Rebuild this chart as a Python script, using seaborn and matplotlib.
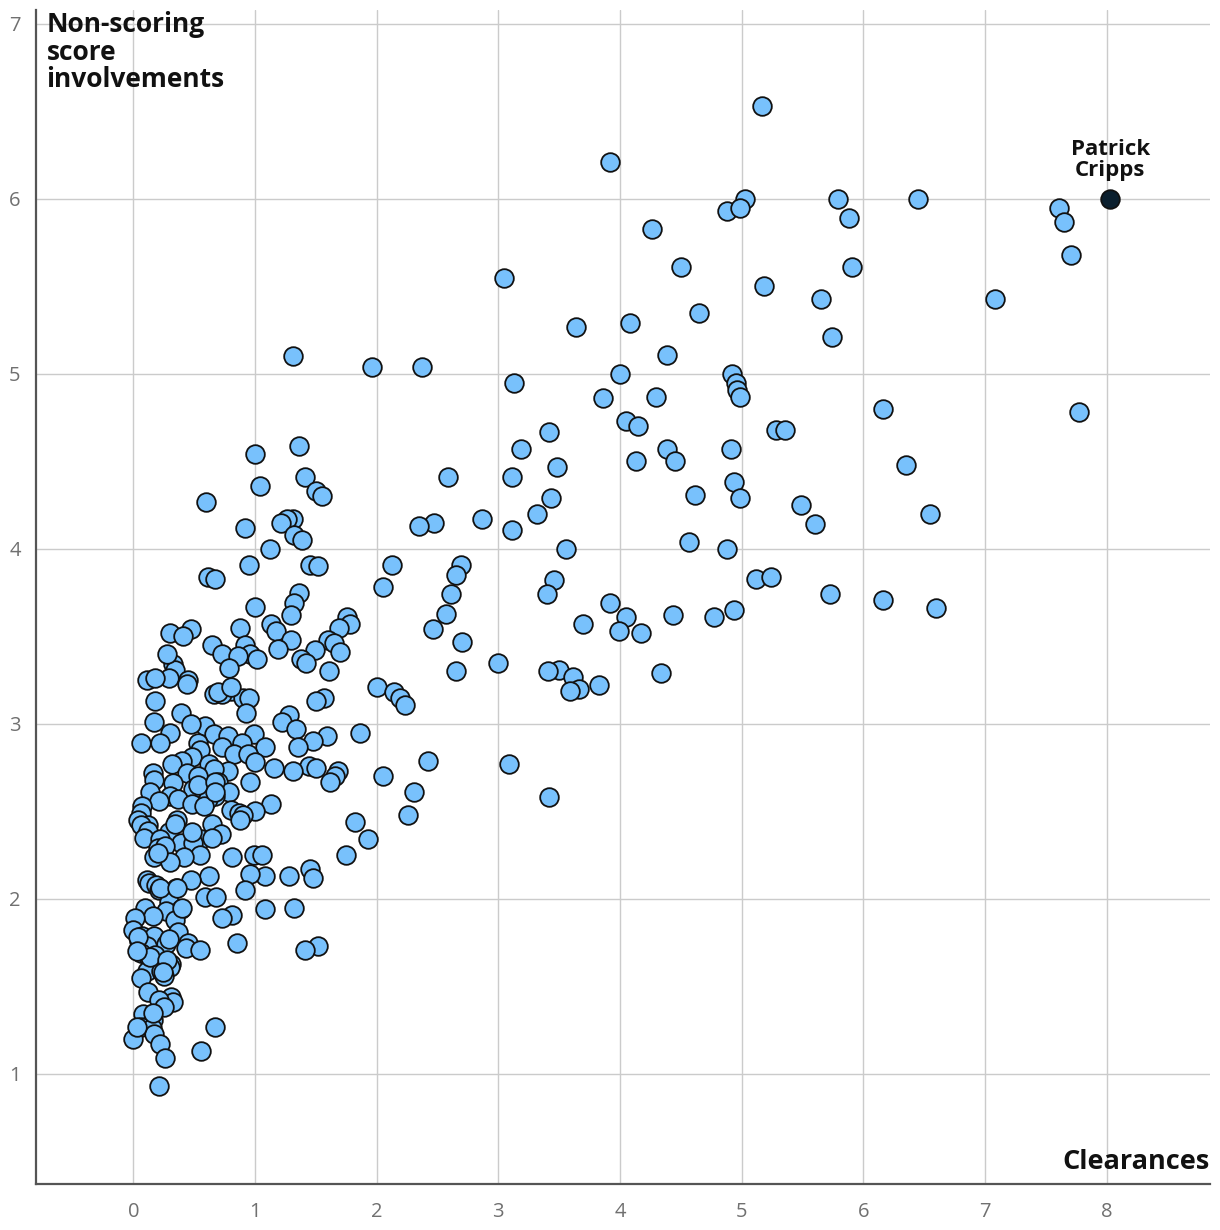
import matplotlib
matplotlib.use("Agg")
import matplotlib.pyplot as plt
import seaborn as sns
import pandas as pd

clearances = [
 5.17,3.92,5.03,4.88,4.99,5.79,5.88,6.45,7.61,7.65,7.71,4.26,4.50,5.91,5.18,3.05,5.65,7.08,4.65,4.08,
 3.64,5.74,1.31,1.96,2.37,4.39,3.13,4.00,4.92,4.95,4.96,4.99,3.86,4.30,6.16,7.77,4.05,4.15,5.28,5.36,
 3.42,3.19,1.36,1.00,4.39,4.45,4.13,4.91,3.48,6.35,2.59,3.11,1.41,1.04,1.50,1.55,4.94,4.62,4.99,3.43,
 5.49,0.60,3.32,6.55,2.87,1.31,1.26,1.21,2.47,2.35,3.11,5.60,0.92,1.32,1.39,4.57,1.12,3.56,4.88,1.45,
 1.52,0.95,2.13,2.69,2.65,0.61,0.67,2.05,3.46,5.12,5.24,1.36,2.61,3.40,5.73,3.92,6.16,6.60,1.32,4.94,
 4.44,4.77,4.05,1.30,1.00,2.57,1.76,1.78,1.69,3.70,1.13,0.88,1.17,2.46,3.99,4.17,0.30,0.47,0.41,1.60,
 1.30,2.70,1.65,0.92,0.65,1.49,1.19,1.70,0.96,1.02,0.73,0.86,1.38,1.42,3.00,0.33,0.34,3.50,3.41,2.65,
 3.61,4.34,0.79,1.61,0.29,0.11,0.18,0.45,0.44,2.00,3.83,3.66,3.59,2.14,0.80,0.66,0.73,0.70,0.90,0.95,
 1.57,2.19,2.23,0.18,1.50,0.93,0.39,1.28,1.22,0.17,0.59,0.47,1.34,0.30,1.86,0.66,0.99,0.78,1.59,1.48,
 0.89,0.06,0.22,0.53,1.35,1.08,0.73,0.55,0.83,0.94,0.48,0.40,2.42,3.09,0.32,0.62,1.00,1.16,1.44,1.50,
 1.31,1.68,0.78,0.66,1.66,2.05,0.44,0.16,0.53,1.62,0.17,0.33,0.70,0.96,0.49,0.79,2.31,0.30,0.67,0.14,
 0.61,0.37,3.42,0.21,0.48,1.13,0.07,0.58,0.80,0.87,1.00,0.90,2.26,0.06,0.04,0.36,1.82,0.65,0.12,0.06,
 0.29,0.12,0.72,0.49,0.09,0.56,1.93,0.22,0.39,0.20,0.26,0.49,0.99,1.06,1.75,0.55,0.81,0.17,0.42,0.30,
 0.20,1.45,1.28,1.08,0.96,0.62,1.48,0.11,0.47,0.13,0.19,0.35,0.92,0.21,0.59,0.68,0.29,0.39,1.32,1.08,
 0.10,0.27,0.81,0.16,0.73,0.01,0.34,0.00,0.37,0.07,0.17,0.05,0.45,0.27,0.85,0.11,1.52,1.41,0.43,0.55,
 0.06,0.18,0.13,0.31,0.30,0.11,0.23,0.06,0.25,0.12,0.31,0.33,0.21,0.08,0.16,0.06,0.67,0.15,0.17,0.00,
 0.22,0.56,0.26,0.21,0.28,0.80,0.53,0.67,0.67,0.34,0.48,0.65,0.88,0.22,0.36,0.40,0.04,0.29,0.14,0.28,
 0.24,0.03,0.25,0.16,0.03,
]
involvements = [
 6.53,6.21,6.00,5.93,5.95,6.00,5.89,6.00,5.95,5.87,5.68,5.83,5.61,5.61,5.50,5.55,5.43,5.43,5.35,5.29,
 5.27,5.21,5.10,5.04,5.04,5.11,4.95,5.00,5.00,4.95,4.91,4.87,4.86,4.87,4.80,4.78,4.73,4.70,4.68,4.68,
 4.67,4.57,4.59,4.54,4.57,4.50,4.50,4.57,4.47,4.48,4.41,4.41,4.41,4.36,4.33,4.30,4.38,4.31,4.29,4.29,
 4.25,4.27,4.20,4.20,4.17,4.17,4.17,4.15,4.15,4.13,4.11,4.14,4.12,4.08,4.05,4.04,4.00,4.00,4.00,3.91,
 3.90,3.91,3.91,3.91,3.85,3.84,3.83,3.78,3.82,3.83,3.84,3.75,3.74,3.74,3.74,3.69,3.71,3.66,3.69,3.65,
 3.62,3.61,3.61,3.62,3.67,3.63,3.61,3.57,3.55,3.57,3.57,3.55,3.53,3.54,3.53,3.52,3.52,3.54,3.50,3.48,
 3.48,3.47,3.46,3.45,3.45,3.42,3.43,3.41,3.40,3.37,3.40,3.39,3.37,3.35,3.35,3.34,3.31,3.31,3.30,3.30,
 3.27,3.29,3.32,3.30,3.26,3.25,3.26,3.25,3.23,3.21,3.22,3.20,3.19,3.18,3.19,3.17,3.17,3.18,3.15,3.15,
 3.15,3.15,3.11,3.13,3.13,3.06,3.06,3.05,3.01,3.01,2.99,3.00,2.97,2.95,2.95,2.94,2.94,2.93,2.93,2.90,
 2.89,2.89,2.89,2.89,2.87,2.87,2.87,2.85,2.83,2.83,2.81,2.79,2.79,2.77,2.77,2.77,2.78,2.75,2.76,2.75,
 2.73,2.73,2.73,2.74,2.70,2.70,2.72,2.72,2.70,2.67,2.68,2.66,2.67,2.67,2.63,2.61,2.61,2.59,2.59,2.61,
 2.57,2.57,2.58,2.56,2.54,2.54,2.53,2.53,2.51,2.49,2.50,2.48,2.48,2.49,2.45,2.45,2.44,2.43,2.42,2.42,
 2.38,2.39,2.37,2.36,2.35,2.34,2.34,2.34,2.32,2.29,2.30,2.32,2.25,2.25,2.25,2.25,2.24,2.24,2.24,2.21,
 2.26,2.17,2.13,2.13,2.14,2.13,2.12,2.11,2.11,2.09,2.08,2.06,2.05,2.05,2.01,2.01,1.98,1.94,1.95,1.94,
 1.95,1.93,1.91,1.90,1.89,1.89,1.88,1.82,1.81,1.79,1.79,1.76,1.75,1.74,1.75,1.73,1.73,1.71,1.72,1.71,
 1.69,1.68,1.66,1.63,1.61,1.59,1.59,1.55,1.56,1.47,1.44,1.41,1.42,1.34,1.31,1.27,1.27,1.26,1.23,1.20,
 1.17,1.13,1.09,0.93,3.40,3.21,2.65,2.67,2.61,2.43,2.38,2.35,2.45,2.06,2.06,1.95,1.78,1.77,1.67,1.65,
 1.58,1.70,1.38,1.35,1.27,
]
highlight_name = "Patrick\nCripps"
highlight_x = [8.03]
highlight_y = [6.00]

x_ticks = [0, 1, 2, 3, 4, 5, 6, 7, 8]
y_ticks = [1, 2, 3, 4, 5, 6, 7]

df = pd.DataFrame({"Clearances": clearances, "Involvements": involvements})
hl = pd.DataFrame({"Clearances": highlight_x, "Involvements": highlight_y})

sns.set_theme(style="white")
plt.rcParams["font.family"] = ["Open Sans", "DejaVu Sans"]

fig = plt.figure(figsize=(12.2, 12.3), dpi=100)
ax = fig.add_axes([36/1220, 1-1184/1230, (1210-36)/1220, (1184-10)/1230])

sns.scatterplot(data=df, x="Clearances", y="Involvements", ax=ax, s=180,
                color="#78C1FC", edgecolor="#111111", linewidth=1.3, zorder=3)
sns.scatterplot(data=hl, x="Clearances", y="Involvements", ax=ax, s=180,
                color="#0B1F2E", edgecolor="#111111", linewidth=1.3, zorder=4)

ax.set_xlim(-0.8, 8.85)
ax.set_ylim(0.37, 7.08)
ax.set_xticks(x_ticks)
ax.set_yticks(y_ticks)
ax.set_xticklabels([str(t) for t in x_ticks])
ax.set_yticklabels([str(t) for t in y_ticks])
ax.grid(True, color="#cbcbcb", linewidth=1.0, zorder=0)
ax.set_axisbelow(True)
for s in ["top", "right"]:
    ax.spines[s].set_visible(False)
for s in ["left", "bottom"]:
    ax.spines[s].set_color("#555555")
    ax.spines[s].set_linewidth(1.6)
ax.tick_params(axis="x", length=0, labelsize=14.5, colors="#707070", pad=13)
ax.tick_params(axis="y", length=0, labelsize=14.5, colors="#707070", pad=11)
ax.set_xlabel("")
ax.set_ylabel("")

ax.text(0.009, 0.999, "Non-scoring\nscore\ninvolvements", transform=ax.transAxes,
        ha="left", va="top", fontsize=19, fontweight="bold", color="#111111",
        linespacing=1.02)
ax.text(1.0, 0.008, "Clearances", transform=ax.transAxes, ha="right", va="bottom",
        fontsize=19.5, fontweight="bold", color="#111111")
ax.text(highlight_x[0], highlight_y[0] + 0.22, highlight_name, ha="center", va="center",
        fontsize=16, fontweight="bold", color="#111111", linespacing=1.0)

fig.savefig("out.png", dpi=100)
